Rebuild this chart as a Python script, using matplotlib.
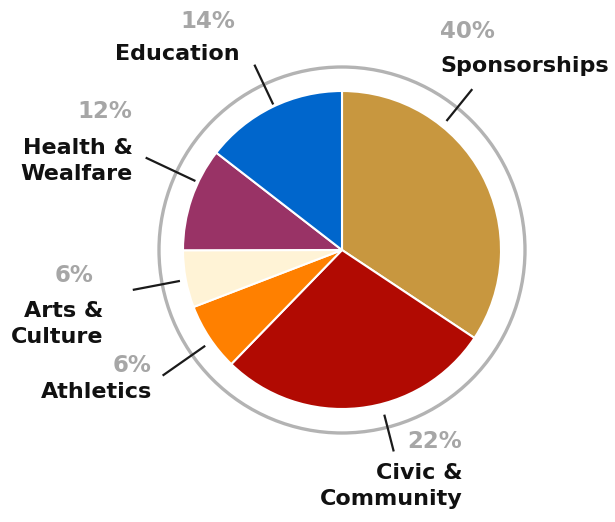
import numpy as np
import matplotlib
matplotlib.use("Agg")
import matplotlib.pyplot as plt
from matplotlib.patches import Circle

# ---- data ----
categories = ["Sponsorships", "Civic &\nCommunity", "Athletics",
              "Arts &\nCulture", "Health &\nWealfare", "Education"]
slice_shares = [34.3, 27.9, 6.9, 5.8, 10.5, 14.5]   # as drawn
pct_labels = ["40%", "22%", "6%", "6%", "12%", "14%"]  # as printed
colors = ["#c8973f", "#b10a02", "#ff8000", "#fff3d6", "#993366", "#0066cc"]

# ---- layout (pixel space, y measured from top of image) ----
W, H = 615, 522
cx, cy, R = 342, 250, 159
ring_r = 183
# leader line angle (deg), inner r, outer r
leaders = [(51, 166, 207), (-75.6, 170, 208), (-145, 167, 219),
           (190.8, 165, 213), (154.8, 162, 217), (115.3, 161, 205)]
# (pct x, pct y, pct ha), (label x, label y, label ha)
text_pos = [((440, 32, "left"), (440, 66, "left")),
            ((462, 441, "right"), (463, 486, "right")),
            ((151, 365, "right"), (152, 392, "right")),
            ((93, 275, "right"), (103, 324, "right")),
            ((132, 112, "right"), (133, 161, "right")),
            ((235, 21, "right"), (240, 54, "right"))]

fig = plt.figure(figsize=(W / 100, H / 100), dpi=100)
ax = fig.add_axes([0, 0, 1, 1])

ax.pie(slice_shares, colors=colors, startangle=90, counterclock=False,
       center=(cx, H - cy), radius=R,
       wedgeprops=dict(edgecolor="white", linewidth=1.5))
ax.add_patch(Circle((cx, H - cy), ring_r, fill=False,
                    edgecolor="#b3b3b3", linewidth=2.4))

for (ang, r0, r1) in leaders:
    a = np.deg2rad(ang)
    ax.plot([cx + r0 * np.cos(a), cx + r1 * np.cos(a)],
            [H - cy + r0 * np.sin(a), H - cy + r1 * np.sin(a)],
            color="#1a1a1a", linewidth=1.6, solid_capstyle="butt")

for cat, pct, (pp, lp) in zip(categories, pct_labels, text_pos):
    ax.text(pp[0], H - pp[1], pct, ha=pp[2], va="center", color="#a6a6a6",
            fontsize=16.5, fontweight="bold", family="DejaVu Sans")
    ax.text(lp[0], H - lp[1], cat, ha=lp[2], va="center", color="#111111",
            fontsize=16, fontweight="bold", family="DejaVu Sans",
            linespacing=1.35, multialignment=lp[2])

ax.set_xlim(0, W)
ax.set_ylim(0, H)
ax.set_aspect("equal")
ax.axis("off")
fig.savefig("out.png", dpi=100, facecolor="white")
